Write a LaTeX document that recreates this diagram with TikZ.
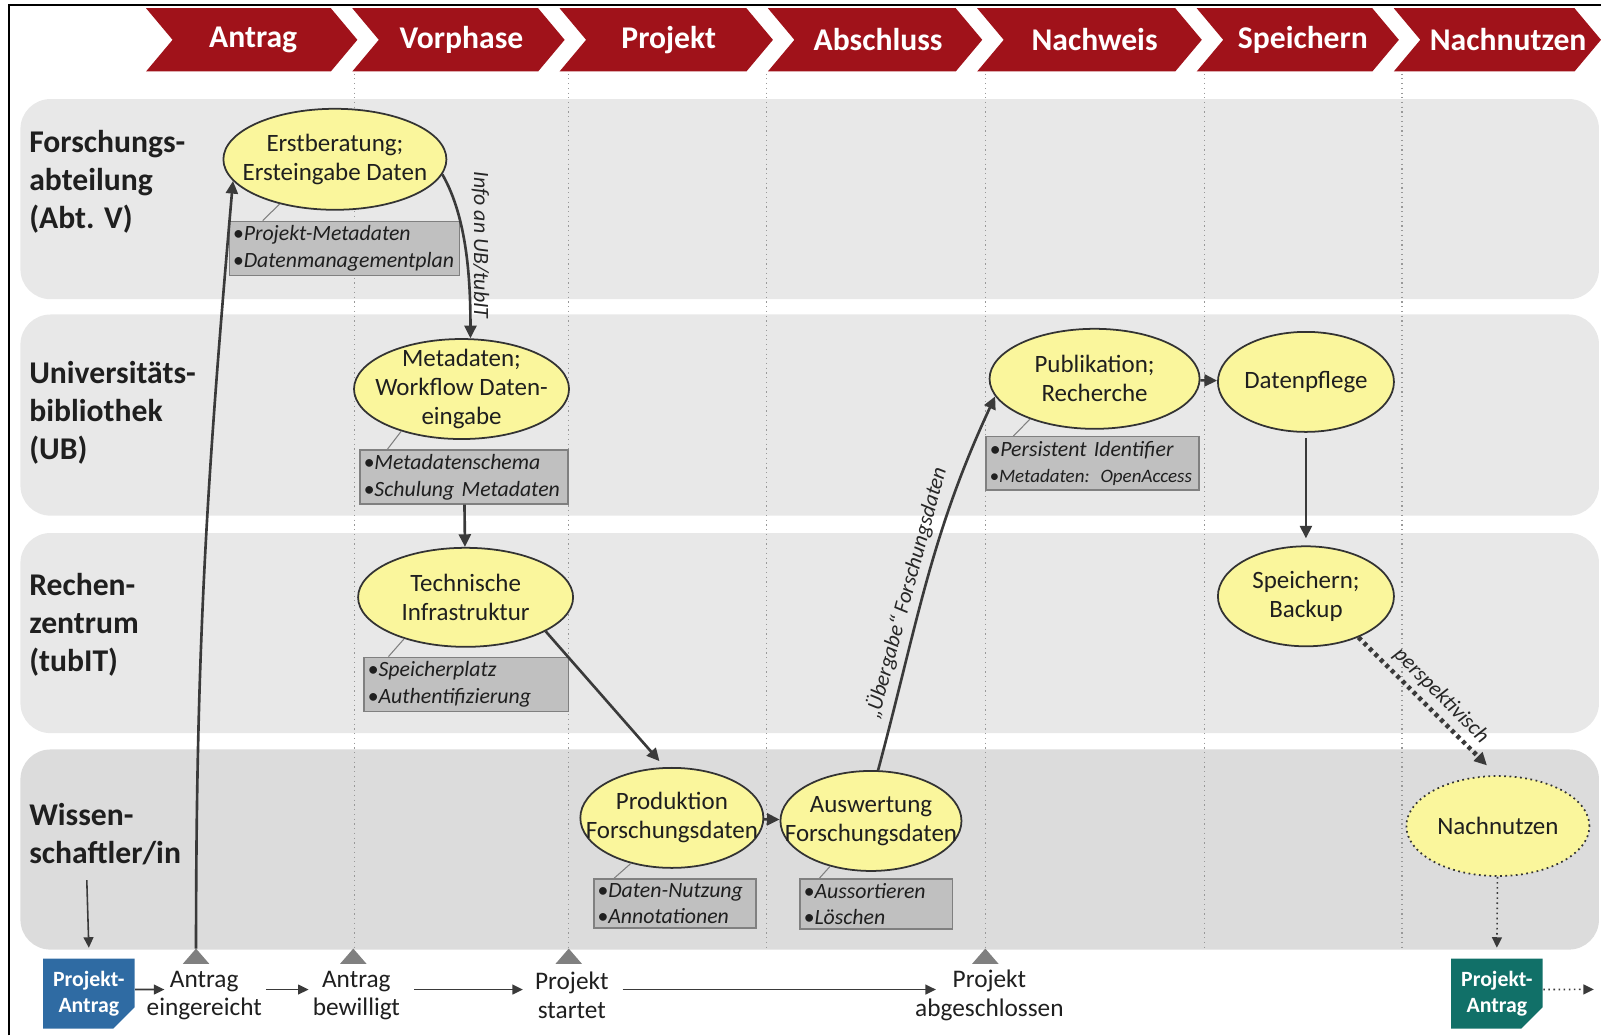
\documentclass[tikz,border=0pt]{standalone}
\usepackage{fontspec}
\setmainfont{Carlito}
\usetikzlibrary{arrows.meta,shapes.geometric,shapes.misc}

\definecolor{phasered}{HTML}{A0121A}
\definecolor{lanegray}{HTML}{E8E8E8}
\definecolor{lanedark}{HTML}{DCDCDC}
\definecolor{taskfill}{HTML}{FAF69C}
\definecolor{boxgray}{HTML}{C0C0C0}
\definecolor{arrowgray}{HTML}{3A3A3A}
\definecolor{antragblue}{HTML}{2F6BA3}
\definecolor{antragteal}{HTML}{117068}

\tikzset{
  phase/.style={text=white, inner sep=0pt, font=\fontsize{9}{10}\selectfont\bfseries},
  phaseline/.style={draw=black!40, line width=0.35pt, densely dotted},
  lanelabel/.style={anchor=west, align=left, inner sep=0pt, text=black!88,
    font=\fontsize{9}{10.8}\selectfont\bfseries},
  task/.style={ellipse, draw=black!80, line width=0.5pt, fill=taskfill, inner sep=0pt},
  tasktext/.style={align=center, inner sep=0pt, text=black!88,
    font=\fontsize{7.1}{8.3}\selectfont},
  infobox/.style={rectangle, draw=black!50, line width=0.4pt, fill=boxgray, anchor=north west,
    align=left, inner xsep=1pt, inner ysep=1.2pt, text=black!88,
    font=\fontsize{6.2}{7.6}\selectfont\itshape},
  pointer/.style={draw=black!50, line width=0.3pt},
  flow/.style={draw=arrowgray, line width=0.75pt, -{Triangle[length=3.6pt,width=3.4pt]}},
  timeflow/.style={draw=arrowgray, line width=0.45pt, -{Triangle[length=3pt,width=2.8pt]}},
  arrowlabel/.style={inner sep=1.5pt, text=black!85, font=\fontsize{6.2}{7}\selectfont\itshape},
  milestone/.style={align=center, inner sep=1pt, text=black!88, font=\fontsize{7.2}{8.2}\selectfont},
  antragbox/.style={chamfered rectangle, chamfered rectangle corners=south east,
    chamfered rectangle xsep=1mm, minimum width=8.8mm, minimum height=7mm,
    inner sep=0pt, align=center, text=white, font=\fontsize{6.2}{7.3}\selectfont\bfseries}
}

\begin{document}
\begin{tikzpicture}[x=0.1021mm, y=-0.1021mm]
  \useasboundingbox (0,0) rectangle (1568,1014);
  \draw[line width=0.6pt] (9,1014) -- (9,5) -- (1568,5);

  % phases
  \foreach \l/\r/\tx/\lbl in {143/350/248/Antrag, 345/553/452/Vorphase, 548/757/655/Projekt,
      752/962/860/Abschluss, 957/1177/1072/Nachweis, 1172/1370/1276/Speichern,
      1365/1568/1477/Nachnutzen} {
    \fill[phasered] (\l,8) -- (\r-26,8) -- (\r,39) -- (\r-26,70) -- (\l,70) -- (\l+26,39) -- cycle;
    \node[phase] (ph-\lbl) at (\tx,39) {\lbl};
  }

  % lanes
  \foreach \top/\bot/\col in {97/293/lanegray, 308/505/lanegray, 522/718/lanegray, 734/930/lanedark}
    \fill[\col, rounded corners=3mm] (20,\top) rectangle (1566,\bot);
  \foreach \x in {347,557,751,965,1180,1373}
    \draw[phaseline] (\x,72) -- (\x,930);

  \node[lanelabel] (lab1) at (28,178) {Forschungs-\\abteilung\\(Abt. V)};
  \node[lanelabel] (lab2) at (28,404) {Universitäts-\\bibliothek\\(UB)};
  \node[lanelabel] (lab3) at (28,612) {Rechen-\\zentrum\\(tubIT)};
  \node[lanelabel] (lab4) at (28,817) {Wissen-\\schaftler/in};

  % milestones
  \foreach \x/\n in {192/1, 346/2, 557/3, 965/4} {
    \fill[black!50] (\x-13,944) -- (\x,929) -- (\x+13,944) -- cycle;
    \coordinate (m\n) at (\x,929);
  }

  % tasks
  \node[task, minimum width=22.3mm, minimum height=10.1mm,
    label={[tasktext]center:Erstberatung;\\Ersteingabe Daten}] (erst) at (328,156) {};
  \node[task, minimum width=21.5mm, minimum height=10mm,
    label={[tasktext]center:Metadaten;\\Workflow Daten-\\eingabe}] (meta) at (452,381) {};
  \node[task, minimum width=21.5mm, minimum height=9.9mm,
    label={[tasktext]center:Technische\\Infrastruktur}] (tech) at (456,585) {};
  \node[task, minimum width=18.3mm, minimum height=10mm,
    label={[tasktext]center:Produktion\\Forschungsdaten}] (prod) at (658,801) {};
  \node[task, minimum width=18.1mm, minimum height=10mm,
    label={[tasktext]center:Auswertung\\Forschungsdaten}] (ausw) at (853,804) {};
  \node[task, minimum width=21mm, minimum height=10mm,
    label={[tasktext]center:Publikation;\\Recherche}] (publ) at (1072,371) {};
  \node[task, minimum width=17.6mm, minimum height=10mm,
    label={[tasktext]center:Datenpflege}] (pfleg) at (1279,374) {};
  \node[task, minimum width=17.6mm, minimum height=10mm,
    label={[tasktext]center:Speichern;\\Backup}] (spei) at (1279,584) {};
  \node[task, densely dotted, minimum width=18.3mm, minimum height=10mm,
    label={[tasktext]center:Nachnutzen}] (nach) at (1467,809) {};

  % details
  \node[infobox, text width=22.3mm] (b1) at (224,216) {\textbullet Projekt-Metadaten\\\textbullet Datenmanagementplan};
  \node[infobox, text width=20.1mm] (b2) at (352,440) {\textbullet Metadatenschema\\\textbullet Schulung Metadaten};
  \node[infobox, text width=19.7mm] (b3) at (356,643) {\textbullet Speicherplatz\\\textbullet Authentifizierung};
  \node[infobox, text width=15.5mm] (b4) at (581,860) {\textbullet Daten-Nutzung\\\textbullet Annotationen};
  \node[infobox, text width=14.5mm] (b5) at (783,860) {\textbullet Aussortieren\\\textbullet Löschen};
  \node[infobox, text width=20.6mm] (b6) at (965,427)
    {\textbullet Persistent Identifier\\{\fontsize{5.4}{7.6}\selectfont\textbullet Metadaten: OpenAccess}};

  \draw[pointer] ([xshift=3.4mm]b1.north west) -- (erst.219);
  \draw[pointer] ([xshift=2.8mm]b2.north west) -- (meta.215);
  \draw[pointer] ([xshift=2.5mm]b3.north west) -- (tech.214);
  \draw[pointer] ([xshift=2.1mm]b4.north west) -- (prod.228);
  \draw[pointer] ([xshift=2mm]b5.north west) -- (ausw.228);
  \draw[pointer] ([xshift=2.8mm]b6.north west) -- (publ.212);

  % flow
  \draw[flow] (m1) to[out=90,in=-95] (erst.192);
  \draw[flow] (erst.-8) to[out=-60,in=90,looseness=0.8]
    node[pos=0.45, rotate=-90, anchor=south, arrowlabel] (infolbl) {Info an UB/tubIT} (meta.80);
  \draw[flow] (b2) -- (tech);
  \draw[flow, shorten >=0.8mm] (tech.-23) -- (prod.98);
  \draw[flow] (prod) -- (ausw);
  \draw[flow] (ausw.82) to[out=75,in=245]
    node[pos=0.45, sloped, above, arrowlabel] (ueblbl) {„Übergabe“ Forschungsdaten} (publ.190);
  \draw[flow] (publ) -- (pfleg);
  \draw[flow, shorten <=0.5mm, shorten >=0.7mm] (pfleg) -- (spei);
  \draw[flow, line width=1.3pt, dash pattern=on 1.1pt off 1.1pt] (spei.-38) --
    node[pos=0.55, sloped, above, arrowlabel] (persplbl) {perspektivisch} ([shift={(-0.2mm,1mm)}]nach.100);

  % timeline
  \node[antragbox, fill=antragblue] (pa1) at (87,973) {Projekt-\\Antrag};
  \node[antragbox, fill=antragteal] (pa2) at (1466,973) {Projekt-\\Antrag};
  \node[milestone] (t1) at (200,975) {Antrag\\eingereicht};
  \node[milestone] (t2) at (349,975) {Antrag\\bewilligt};
  \node[milestone] (t3) at (560,975) {Projekt\\startet};
  \node[milestone] (t4) at (969,975) {Projekt\\abgeschlossen};
  \coordinate (wiss) at (85,862);
  \coordinate (pa2end) at (1561,969);

  \draw[timeflow] (wiss) -- ([yshift=1mm]pa1.north);
  \draw[timeflow] ([yshift=0.4mm]pa1.east) -- ([xshift=2.2mm,yshift=0.6mm]t1.west);
  \draw[timeflow] ([yshift=0.6mm]t1.east) -- ([yshift=0.6mm]t2.west);
  \draw[timeflow, shorten <=1mm, shorten >=0.8mm] ([yshift=0.6mm]t2.east) -- ([yshift=0.6mm]t3.west);
  \draw[timeflow, shorten <=1mm] ([yshift=0.6mm]t3.east) -- ([xshift=2.5mm,yshift=0.6mm]t4.west);
  \draw[timeflow, densely dotted] (nach) -- ([yshift=1mm]pa2.north);
  \draw[timeflow, densely dotted] ([yshift=0.4mm]pa2.east) -- (pa2end);
\end{tikzpicture}
\end{document}
